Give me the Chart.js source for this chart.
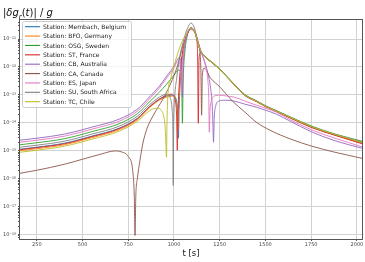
<!DOCTYPE html>
<html>
<head>
<meta charset="utf-8">
<script src="https://cdn.jsdelivr.net/npm/chart.js@4.4.0/dist/chart.umd.min.js"></script>
<style>
  html, body { margin: 0; padding: 0; background: #fff; }
  canvas { display: block; }
</style>
</head>
<body>
<canvas id="chart" width="365" height="262"></canvas>
<script>
// station names and matplotlib tab10 colours
const stations = ['Membach, Belgium', 'BFO, Germany', 'OSG, Sweden', 'ST, France', 'CB, Australia',
                  'CA, Canada', 'ES, Japan', 'SU, South Africa', 'TC, Chile'];
const colors = ['#1f77b4', '#ff7f0e', '#2ca02c', '#d62728', '#9467bd', '#8c564b', '#e377c2', '#7f7f7f', '#bcbd22'];

// time [s] and |dg_r(t)|/g, one pair per station
const tMembach = [158,250,400,550,700,800,870,920,960,990,1005,1014,1020,1024,1028,1035,1045,1060,1075,1093,1115,1130,1142,1165,1190,1224,1270,1316,1388,1450,1500,1560,1635,1750,1880,2028];
const gMembach = [1.14e-15,1.35e-15,1.87e-15,3.34e-15,6.46e-15,1.47e-14,3.97e-14,7.07e-14,9.1e-14,9.8e-14,8.7e-14,6.0e-14,2.42e-14,2.83e-15,3.37e-14,3.39e-13,2.09e-12,7.8e-12,1.64e-11,2.48e-11,1.78e-11,7.8e-12,4.04e-12,2.46e-12,1.77e-12,1.17e-12,6.0e-13,2.88e-13,9.8e-14,6.0e-14,3.97e-14,2.63e-14,1.55e-14,7.2e-15,3.75e-15,1.95e-15];

const tBFO = [158,250,400,550,700,800,870,920,960,990,1003,1012,1018,1021,1025,1033,1045,1060,1075,1093,1115,1130,1142,1165,1190,1224,1270,1316,1388,1450,1500,1560,1635,1750,1880,2028];
const gBFO = [1.01e-15,1.19e-15,1.65e-15,2.95e-15,5.7e-15,1.3e-14,3.65e-14,6.5e-14,8.3e-14,9.1e-14,8.3e-14,5.5e-14,2.42e-14,5.47e-15,3.97e-14,3.39e-13,2.26e-12,7.8e-12,1.64e-11,2.48e-11,1.78e-11,7.8e-12,4.04e-12,2.46e-12,1.77e-12,1.17e-12,6.0e-13,2.88e-13,9.6e-14,5.9e-14,3.9e-14,2.6e-14,1.52e-14,7.0e-15,3.65e-15,1.87e-15];

const tOSG = [158,250,400,550,700,800,870,920,960,1000,1025,1036,1042,1046,1050,1058,1072,1093,1115,1130,1142,1165,1190,1224,1270,1316,1388,1450,1500,1560,1635,1750,1880,2028];
const gOSG = [1.65e-15,1.95e-15,2.7e-15,4.85e-15,9.35e-15,2.14e-14,6.0e-14,1.26e-13,2.44e-13,5.1e-13,7.7e-13,7.13e-13,3.39e-13,9.75e-15,2.88e-13,2.67e-12,1.28e-11,2.48e-11,1.78e-11,7.8e-12,4.38e-12,2.56e-12,1.85e-12,1.22e-12,6.3e-13,3.0e-13,1.03e-13,6.25e-14,4.14e-14,2.74e-14,1.65e-14,7.8e-15,4.0e-15,2.21e-15];

const tST = [158,250,400,550,700,800,870,920,960,985,1000,1009,1014,1018,1022,1030,1042,1058,1075,1093,1112,1124,1129,1133,1137,1145,1165,1190,1224,1270,1316,1388,1450,1500,1560,1635,1750,1880,2028];
const gST = [1.1e-15,1.3e-15,1.79e-15,3.2e-15,6.2e-15,1.41e-14,3.97e-14,7.07e-14,9.8e-14,1.07e-13,9.1e-14,5.5e-14,1.89e-14,1.05e-15,2.42e-14,3.39e-13,2.09e-12,7.8e-12,1.64e-11,2.48e-11,1.935e-11,9.2e-12,2.67e-12,9.75e-15,2.09e-12,3.15e-12,2.46e-12,1.77e-12,1.17e-12,6.0e-13,2.88e-13,9.5e-14,5.8e-14,3.85e-14,2.55e-14,1.5e-14,6.9e-15,3.6e-15,1.79e-15];

const tCB = [158,250,400,550,700,800,870,920,960,1000,1020,1030,1038,1043,1046,1049,1055,1070,1093,1110,1125,1145,1165,1185,1200,1209,1213,1216,1220,1228,1245,1280,1330,1388,1450,1500,1560,1635,1750,1880,2028];
const gCB = [2.4e-15,2.83e-15,3.94e-15,7.01e-15,1.36e-14,3.1e-14,9.1e-14,2.07e-13,4.72e-13,1.08e-12,1.92e-12,2.17e-12,1.5e-12,5.1e-13,8.3e-14,6.6e-13,3.42e-12,1.28e-11,2.48e-11,1.935e-11,1.086e-11,4.04e-12,1.77e-12,6.0e-13,1.75e-13,4.31e-14,8.27e-15,2.03e-15,1.47e-14,3.97e-14,6.0e-14,6.5e-14,6.0e-14,4.68e-14,3.65e-14,2.85e-14,2.05e-14,1.15e-14,4.85e-15,2.3e-15,1.24e-15];

const tCA = [158,250,400,500,600,677,714,750,774,783,787,791,800,814,830,851,870,900,951,1015,1050,1070,1093,1115,1130,1142,1147,1151,1155,1165,1200,1252,1320,1388,1450,1525,1640,1755,1880,2028];
const gCA = [1.57e-16,2.02e-16,3.3e-16,5.0e-16,7.6e-16,9.9e-16,9.1e-16,6.2e-16,2.02e-16,2.17e-17,9.4e-19,2.17e-17,1.04e-16,4.6e-16,1.87e-15,5.94e-15,1.15e-14,2.63e-14,9.8e-14,9.1e-13,6.1e-12,1.39e-11,2.28e-11,1.64e-11,7.8e-12,3.42e-12,7.7e-13,1.89e-14,5.1e-13,9.1e-13,4.0e-13,1.9e-13,6.0e-14,2.42e-14,1.06e-14,5.47e-15,2.6e-15,1.46e-15,8.9e-16,5.4e-16];

const tES = [158,250,400,550,700,800,870,920,960,1000,1018,1028,1035,1039,1042,1045,1052,1068,1093,1110,1125,1145,1160,1175,1185,1190,1193,1197,1205,1220,1250,1290,1330,1388,1450,1500,1560,1635,1750,1880,2028];
const gES = [2.03e-15,2.4e-15,3.34e-15,5.94e-15,1.15e-14,2.63e-14,7.7e-14,1.75e-13,4.0e-13,9.1e-13,1.5e-12,1.5e-12,9.1e-13,4.0e-13,1.26e-13,6.6e-13,3.42e-12,1.28e-11,2.48e-11,1.935e-11,1.086e-11,4.04e-12,2.09e-12,9.1e-13,3.39e-13,8.3e-14,4.64e-15,2.85e-14,6.5e-14,9.1e-14,9.8e-14,9.1e-14,8.3e-14,6.0e-14,4.31e-14,3.37e-14,2.42e-14,1.3e-14,5.7e-15,2.83e-15,1.4e-15];

const tSU = [158,250,400,550,700,800,870,920,960,980,990,994,996,998,1003,1015,1030,1050,1070,1093,1110,1125,1140,1165,1190,1224,1270,1316,1388,1450,1500,1560,1635,1750,1880,2028];
const gSU = [1.35e-15,1.59e-15,2.21e-15,3.94e-15,7.62e-15,1.74e-14,4.68e-14,8.3e-14,1.07e-13,7.7e-14,2.85e-14,5.47e-15,5.8e-17,5.47e-15,6.5e-14,4.0e-13,2.09e-12,7.8e-12,2.1e-11,3.74e-11,2.69e-11,1.18e-11,4.76e-12,2.46e-12,1.77e-12,1.17e-12,6.1e-13,2.95e-13,1.0e-13,6.1e-14,4.05e-14,2.7e-14,1.6e-14,7.5e-15,3.9e-15,2.15e-15];

const tTC = [158,250,400,550,700,800,850,880,910,930,945,952,956,959,962,968,980,1000,1030,1060,1093,1112,1127,1142,1165,1190,1224,1270,1316,1388,1450,1500,1560,1635,1750,1880,2028];
const gTC = [8.9e-16,1.05e-15,1.46e-15,2.6e-15,5.04e-15,1.15e-14,2.23e-14,3.1e-14,3.37e-14,2.85e-14,1.6e-14,6.46e-15,1.59e-15,5.9e-16,1.25e-14,1.26e-13,3.39e-13,1.08e-12,4.76e-12,1.28e-11,2.48e-11,1.935e-11,9.2e-12,4.38e-12,2.46e-12,1.77e-12,1.17e-12,6.0e-13,2.88e-13,9.8e-14,6.0e-14,3.97e-14,2.63e-14,1.58e-14,7.4e-15,3.85e-15,2.03e-15];

// axes
const xTicks = [250, 500, 750, 1000, 1250, 1500, 1750, 2000];
const yDecades = [-19, -18, -17, -16, -15, -14, -13, -12, -11];
const xMin = 158, xMax = 2028;
const yMin = 7e-19, yMax = 4.8e-11;

const FONT = '"DejaVu Sans", sans-serif';
const series = [[tMembach, gMembach], [tBFO, gBFO], [tOSG, gOSG], [tST, gST], [tCB, gCB],
                [tCA, gCA], [tES, gES], [tSU, gSU], [tTC, gTC]];

const SUP = { '-': '\u207B', '0': '\u2070', '1': '\u00B9', '2': '\u00B2', '3': '\u00B3', '4': '\u2074',
              '5': '\u2075', '6': '\u2076', '7': '\u2077', '8': '\u2078', '9': '\u2079' };
const sup = s => String(s).split('').map(c => SUP[c]).join('');

// log ticks: decades labelled, 2..9 as minor ticks
const yTickList = [];
yDecades.forEach(e => {
  for (let k = 1; k <= 9; k++) {
    const v = k * Number('1e' + e);
    if (v >= yMin && v <= yMax) yTickList.push({ value: v, major: k === 1, exp: e });
  }
});

const datasets = stations.map((name, i) => ({
  label: 'Station: ' + name,
  data: series[i][0].map((t, k) => ({ x: t, y: series[i][1][k] })),
  borderColor: colors[i],
  borderWidth: 0.9,
  pointRadius: 0,
  fill: false,
  cubicInterpolationMode: 'monotone',
  order: stations.length - i
}));

const extras = {
  id: 'extras',
  afterDraw(chart) {
    const { ctx, chartArea: a } = chart;
    ctx.save();

    // frame
    ctx.strokeStyle = '#555';
    ctx.lineWidth = 1;
    ctx.strokeRect(a.left - 0.5, a.top - 0.5, a.right - a.left + 1, a.bottom - a.top + 1);

    // legend (upper left, inside the axes)
    const lx = 22, ly = 21, lw = 109, lh = 86;
    ctx.beginPath();
    ctx.roundRect(lx + 0.5, ly + 0.5, lw, lh, 2);
    ctx.fillStyle = 'rgba(255,255,255,0.8)';
    ctx.fill();
    ctx.strokeStyle = '#cccccc';
    ctx.stroke();
    ctx.font = '6px ' + FONT;
    ctx.textBaseline = 'middle';
    ctx.textAlign = 'left';
    chart.data.datasets.forEach((ds, i) => {
      const y = 26.7 + i * 9.375;
      ctx.strokeStyle = ds.borderColor;
      ctx.lineWidth = 1.1;
      ctx.beginPath();
      ctx.moveTo(25, y);
      ctx.lineTo(40, y);
      ctx.stroke();
      ctx.fillStyle = '#222';
      ctx.fillText(ds.label, 43, y + 0.5);
    });

    // y label (mathtext style)
    ctx.fillStyle = '#111';
    ctx.textBaseline = 'alphabetic';
    let x = 3;
    const base = 16;
    const parts = [
      ['|', 'normal', 10, 0], ['\u03B4g', 'italic', 10, 0], ['r', 'italic', 7, 2.5],
      ['(', 'normal', 10, 0], ['t', 'italic', 10, 0], [')|', 'normal', 10, 0],
      [' / ', 'normal', 10, 0], ['g', 'italic', 10, 0]
    ];
    parts.forEach(([txt, style, size, dy]) => {
      ctx.font = style + ' ' + size + 'px ' + FONT;
      ctx.fillText(txt, x, base + dy);
      x += ctx.measureText(txt).width;
    });

    // x label
    ctx.font = '8.5px ' + FONT;
    ctx.textAlign = 'center';
    ctx.fillText('t [s]', (a.left + a.right) / 2, 256);
    ctx.restore();
  }
};

new Chart(document.getElementById('chart'), {
  type: 'line',
  data: { datasets },
  options: {
    responsive: false,
    animation: false,
    events: [],
    layout: { padding: { top: 20, right: 3, left: 0, bottom: 0 } },
    plugins: { legend: { display: false }, tooltip: { enabled: false }, title: { display: false } },
    scales: {
      x: {
        type: 'linear',
        min: xMin,
        max: xMax,
        afterFit: s => { s.height = 23; },
        afterBuildTicks: s => { s.ticks = xTicks.map(v => ({ value: v })); },
        border: { display: false },
        grid: { color: '#d2d2d2', lineWidth: 1, tickLength: 2, tickColor: '#555' },
        ticks: {
          autoSkip: false, maxRotation: 0, padding: 1, color: '#444',
          font: { size: 5, family: FONT },
          callback: v => String(v)
        }
      },
      y: {
        type: 'logarithmic',
        min: yMin,
        max: yMax,
        afterFit: s => { s.width = 20; },
        afterBuildTicks: s => { s.ticks = yTickList.map(t => ({ value: t.value })); },
        border: { display: false },
        grid: {
          lineWidth: 1,
          tickLength: 2,
          tickColor: '#555',
          color: c => (c.tick && yTickList[c.index] && yTickList[c.index].major) ? '#d2d2d2' : 'rgba(0,0,0,0)'
        },
        ticks: {
          autoSkip: false,
          padding: 2,
          color: '#444',
          font: { size: 5, family: FONT },
          callback: (v, i) => yTickList[i] && yTickList[i].major ? '10' + sup(yTickList[i].exp) : ''
        }
      }
    }
  },
  plugins: [extras]
});
</script>
</body>
</html>
